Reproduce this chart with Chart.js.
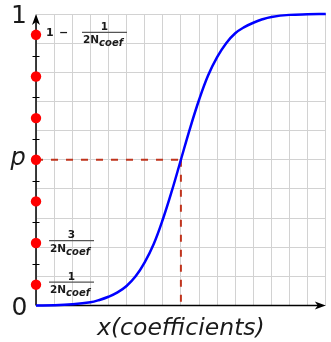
<!DOCTYPE html>
<html>
<head>
<meta charset="utf-8">
<script src="https://cdn.jsdelivr.net/npm/chart.js@4.4.1/dist/chart.umd.min.js"></script>
<style>
  html, body { margin: 0; padding: 0; background: #fff; }
  canvas { display: block; }
</style>
</head>
<body>
<canvas id="cdfChart" width="331" height="342"></canvas>
<script>
// DATA
const curveX = [0, 1, 2, 3, 3.5, 4, 4.5, 5, 5.5, 6, 6.5, 7, 7.5, 8, 8.5, 9, 9.5, 10, 10.5, 11, 11.5, 12, 12.5, 13, 14, 15, 16];
const curveY = [0, 0.0008, 0.004, 0.011, 0.019, 0.03, 0.045, 0.067, 0.1, 0.148, 0.211, 0.295, 0.393, 0.5, 0.607, 0.705, 0.789, 0.852, 0.9, 0.934, 0.955, 0.97, 0.982, 0.99, 0.997, 0.999, 1];
const dotLevels = [1/14, 3/14, 5/14, 7/14, 9/14, 11/14, 13/14];
const tickLevels = [1/7, 2/7, 3/7, 4/7, 5/7, 6/7];
const pValue = 0.5;
const pX = 8;
const xMax = 16;

const BLUE = '#0000ff';
const DASH_RED = '#c0341d';
const TEXT = '#1a1a1a';
const FONT = '"DejaVu Sans", sans-serif';

// AXES + LABELS
const axisPlugin = {
    id: 'axisPlugin',
    beforeDatasetsDraw(chart) {
        const { ctx, scales: { x, y } } = chart;
        const x0 = x.getPixelForValue(0);
        const y0 = y.getPixelForValue(0);
        const xEnd = x.getPixelForValue(xMax);
        const yTop = y.getPixelForValue(1);
        ctx.save();
        ctx.strokeStyle = '#000';
        ctx.fillStyle = '#000';
        ctx.lineWidth = 1.5;
        ctx.beginPath();
        ctx.moveTo(x0, y0);
        ctx.lineTo(xEnd - 4, y0);
        ctx.moveTo(x0, y0);
        ctx.lineTo(x0, yTop + 4);
        ctx.stroke();
        // arrow heads
        ctx.beginPath();
        ctx.moveTo(xEnd, y0);
        ctx.lineTo(xEnd - 11, y0 - 4);
        ctx.lineTo(xEnd - 8, y0);
        ctx.lineTo(xEnd - 11, y0 + 4);
        ctx.closePath();
        ctx.fill();
        ctx.beginPath();
        ctx.moveTo(x0, yTop);
        ctx.lineTo(x0 - 4, yTop + 11);
        ctx.lineTo(x0, yTop + 8);
        ctx.lineTo(x0 + 4, yTop + 11);
        ctx.closePath();
        ctx.fill();
        // small ticks between the dots
        ctx.lineWidth = 1;
        tickLevels.forEach(v => {
            const py = Math.round(y.getPixelForValue(v)) + 0.5;
            ctx.beginPath();
            ctx.moveTo(x0 - 3.5, py);
            ctx.lineTo(x0 + 3.5, py);
            ctx.stroke();
        });
        ctx.restore();
    },
    afterDraw(chart) {
        const { ctx, scales: { x, y } } = chart;
        const x0 = x.getPixelForValue(0);
        ctx.save();
        ctx.fillStyle = TEXT;
        ctx.textBaseline = 'alphabetic';

        ctx.font = '25px ' + FONT;
        ctx.textAlign = 'center';
        ctx.fillText('1', 19, y.getPixelForValue(1) + 9);
        ctx.fillText('0', 19.5, y.getPixelForValue(0) + 9);

        ctx.font = 'italic 24px ' + FONT;
        ctx.fillText('p', 18, y.getPixelForValue(pValue) + 5);

        ctx.font = 'italic 23.5px ' + FONT;
        ctx.fillText('x(coefficients)', x.getPixelForValue(pX), 335);

        // fraction labels next to the dots
        const frac = (left, barY, num) => {
            const w = 45;
            ctx.strokeStyle = '#555';
            ctx.lineWidth = 1.2;
            ctx.beginPath();
            ctx.moveTo(left, barY);
            ctx.lineTo(left + w, barY);
            ctx.stroke();
            ctx.textAlign = 'center';
            ctx.font = 'bold 10.5px ' + FONT;
            ctx.fillText(num, left + w / 2, barY - 2.5);
            ctx.textAlign = 'left';
            ctx.fillText('2N', left + 1, barY + 11);
            const wN = ctx.measureText('2N').width;
            ctx.font = 'italic bold 10px ' + FONT;
            ctx.fillText('coef', left + 1 + wN, barY + 14);
        };
        const dy = lv => y.getPixelForValue(lv) - 2.5;
        frac(x0 + 13, dy(dotLevels[0]), '1');
        frac(x0 + 13, dy(dotLevels[1]), '3');

        const topY = dy(dotLevels[dotLevels.length - 1]);
        ctx.font = 'bold 11px ' + FONT;
        ctx.textAlign = 'left';
        ctx.fillText('1', x0 + 10, topY + 4);
        ctx.fillText('\u2212', x0 + 23, topY + 4);
        frac(x0 + 46, topY, '1');
        ctx.restore();
    }
};

const ctx = document.getElementById('cdfChart').getContext('2d');
const cdfChart = new Chart(ctx, {
    type: 'line',
    data: {
        datasets: [
            {
                data: curveX.map((v, i) => ({ x: v, y: curveY[i] })),
                borderColor: BLUE,
                borderWidth: 2.5,
                pointRadius: 0,
                tension: 0.4,
                clip: false,
                order: 1
            },
            {
                data: [{ x: 0, y: pValue }, { x: pX, y: pValue }],
                borderColor: DASH_RED,
                borderWidth: 2,
                borderDash: [7, 8],
                pointRadius: 0,
                order: 2
            },
            {
                data: [{ x: pX, y: pValue }, { x: pX, y: 0 }],
                borderColor: DASH_RED,
                borderWidth: 2,
                borderDash: [7, 8],
                pointRadius: 0,
                order: 2
            },
            {
                data: dotLevels.map(v => ({ x: 0, y: v })),
                showLine: false,
                pointRadius: 5.2,
                pointBackgroundColor: '#ff0000',
                pointBorderWidth: 0,
                clip: false,
                order: 0
            }
        ]
    },
    options: {
        responsive: false,
        animation: false,
        layout: { padding: { left: 36, right: 3.5, top: 14, bottom: 36.5 } },
        scales: {
            x: {
                type: 'linear', min: 0, max: xMax,
                ticks: { display: false, stepSize: 1 },
                grid: { color: '#d2d2d2', lineWidth: 1, drawTicks: false },
                border: { display: false }
            },
            y: {
                min: 0, max: 1,
                ticks: { display: false, stepSize: 0.1 },
                grid: { color: '#d2d2d2', lineWidth: 1, drawTicks: false },
                border: { display: false }
            }
        },
        plugins: { legend: { display: false }, tooltip: { enabled: false } }
    },
    plugins: [axisPlugin]
});
</script>
</body>
</html>
